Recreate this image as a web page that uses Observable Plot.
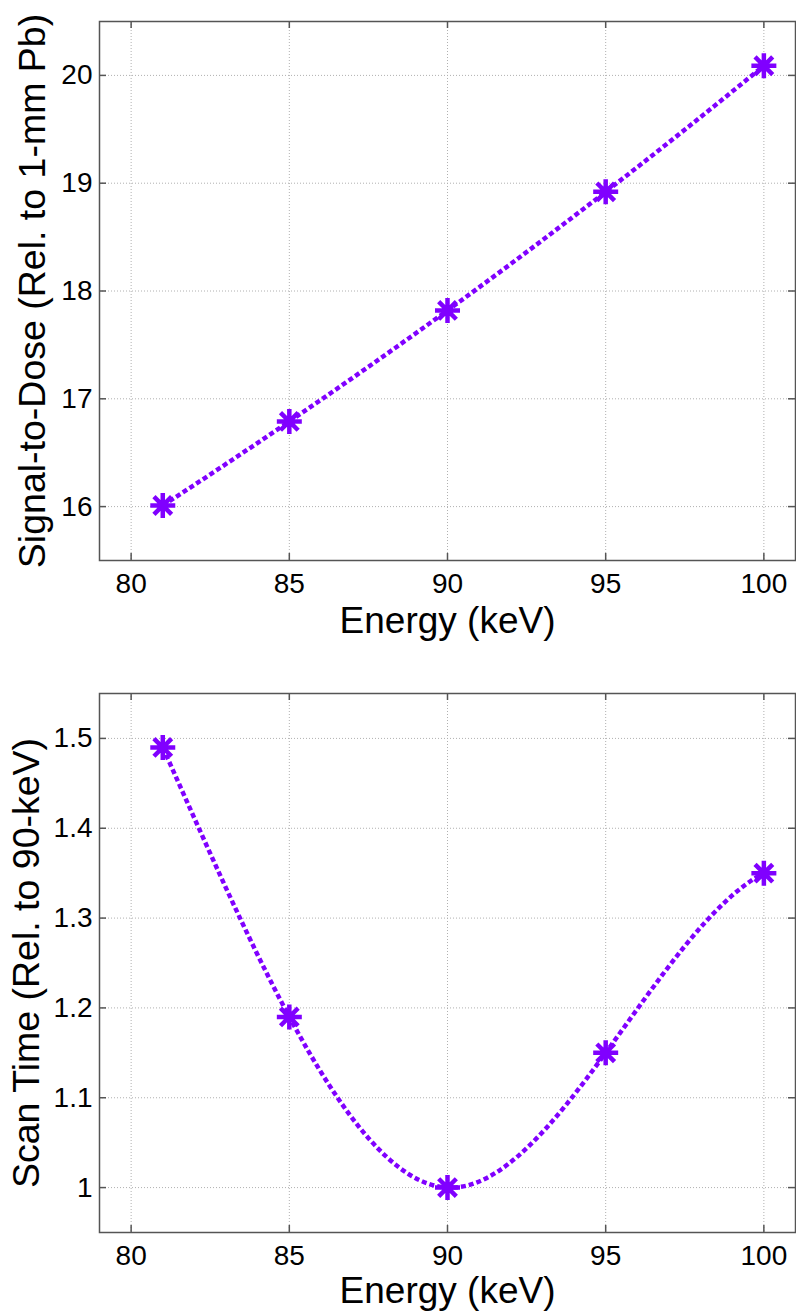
<!DOCTYPE html>
<html>
<head>
<meta charset="utf-8">
<script src="https://cdn.jsdelivr.net/npm/d3@7"></script>
<script src="https://cdn.jsdelivr.net/npm/@observablehq/plot@0.6"></script>
<style>
  html, body { margin: 0; padding: 0; background: #fff; }
  #chart svg { display: block; }
</style>
</head>
<body>
<div id="chart"></div>
<script>
// ---- data ----
const energy = [81, 85, 90, 95, 100];
const signalToDose = [16.01, 16.79, 17.82, 18.92, 20.09];
const scanTime = [1.49, 1.19, 1.0, 1.15, 1.35];

const xTicks = [80, 85, 90, 95, 100];
const yTicksTop = [16, 17, 18, 19, 20];
const yTicksBottom = [1, 1.1, 1.2, 1.3, 1.4, 1.5];

const xLabel = "Energy (keV)";
const yLabelTop = "Signal-to-Dose (Rel. to 1-mm Pb)";
const yLabelBottom = "Scan Time (Rel. to 90-keV)";

// ---- style ----
const purple = "#8000ff";
const axisColor = "#555";
const font = "'Liberation Sans', Arial, Helvetica, sans-serif";

// MATLAB-style "not-a-knot" cubic spline as a d3 curve factory
function curveNotAKnot(context) {
  let xs, ys;
  function solve(A, b) {
    const n = b.length;
    for (let k = 0; k < n; k++) {
      let p = k;
      for (let i = k + 1; i < n; i++) if (Math.abs(A[i][k]) > Math.abs(A[p][k])) p = i;
      [A[k], A[p]] = [A[p], A[k]]; [b[k], b[p]] = [b[p], b[k]];
      for (let i = k + 1; i < n; i++) {
        const f = A[i][k] / A[k][k];
        for (let j = k; j < n; j++) A[i][j] -= f * A[k][j];
        b[i] -= f * b[k];
      }
    }
    const m = new Array(n).fill(0);
    for (let i = n - 1; i >= 0; i--) {
      let s = b[i];
      for (let j = i + 1; j < n; j++) s -= A[i][j] * m[j];
      m[i] = s / A[i][i];
    }
    return m;
  }
  return {
    areaStart() {}, areaEnd() {},
    lineStart() { xs = []; ys = []; },
    point(x, y) { xs.push(+x); ys.push(+y); },
    lineEnd() {
      const n = xs.length;
      if (!n) return;
      context.moveTo(xs[0], ys[0]);
      if (n < 4) { for (let i = 1; i < n; i++) context.lineTo(xs[i], ys[i]); return; }
      const h = [], d = [];
      for (let i = 0; i < n - 1; i++) { h.push(xs[i + 1] - xs[i]); d.push((ys[i + 1] - ys[i]) / h[i]); }
      const A = Array.from({length: n}, () => new Array(n).fill(0));
      const b = new Array(n).fill(0);
      const x31 = h[0] + h[1];
      A[0][0] = h[1]; A[0][1] = x31;
      b[0] = ((h[0] + 2 * x31) * h[1] * d[0] + h[0] * h[0] * d[1]) / x31;
      for (let i = 1; i < n - 1; i++) {
        A[i][i - 1] = h[i]; A[i][i] = 2 * (h[i - 1] + h[i]); A[i][i + 1] = h[i - 1];
        b[i] = 3 * (h[i] * d[i - 1] + h[i - 1] * d[i]);
      }
      const xn = h[n - 2] + h[n - 3];
      A[n - 1][n - 2] = xn; A[n - 1][n - 1] = h[n - 3];
      b[n - 1] = (h[n - 2] * h[n - 2] * d[n - 3] + (2 * xn + h[n - 2]) * h[n - 3] * d[n - 2]) / xn;
      const m = solve(A, b);
      for (let i = 0; i < n - 1; i++) {
        const t = h[i] / 3;
        context.bezierCurveTo(xs[i] + t, ys[i] + m[i] * t, xs[i + 1] - t, ys[i + 1] - m[i + 1] * t, xs[i + 1], ys[i + 1]);
      }
    }
  };
}

const asterisk = {
  draw(context, size) {
    const r = Math.sqrt(size / Math.PI);
    const d = r * Math.SQRT1_2;
    context.moveTo(-r, 0); context.lineTo(r, 0);
    context.moveTo(0, -r); context.lineTo(0, r);
    context.moveTo(-d, -d); context.lineTo(d, d);
    context.moveTo(-d, d); context.lineTo(d, -d);
  }
};

function panel({values, yDomain, yTicks, yLabel, height, marginTop, marginBottom, yTitleDx, xTitleDy}) {
  const data = energy.map((e, i) => ({x: e, y: values[i]}));
  const plotH = height - marginTop - marginBottom;
  const plotW = 796 - 99 - 1;
  const tl = 7;
  return Plot.plot({
    width: 796,
    height,
    marginLeft: 99,
    marginRight: 1,
    marginTop,
    marginBottom,
    style: {fontFamily: font, background: "#fff", overflow: "visible"},
    x: {domain: [79, 101]},
    y: {domain: yDomain},
    marks: [
      Plot.gridX(xTicks, {stroke: "#b0b0b0", strokeOpacity: 1, strokeWidth: 1, strokeDasharray: "1,2"}),
      Plot.gridY(yTicks, {stroke: "#b0b0b0", strokeOpacity: 1, strokeWidth: 1, strokeDasharray: "1,2"}),
      // inward ticks on all four sides
      Plot.tickX(xTicks, {x: d => d, insetTop: plotH - tl, stroke: axisColor, strokeWidth: 1.5}),
      Plot.tickX(xTicks, {x: d => d, insetBottom: plotH - tl, stroke: axisColor, strokeWidth: 1.5}),
      Plot.tickY(yTicks, {y: d => d, insetRight: plotW - tl, stroke: axisColor, strokeWidth: 1.5}),
      Plot.tickY(yTicks, {y: d => d, insetLeft: plotW - tl, stroke: axisColor, strokeWidth: 1.5}),
      Plot.axisX(xTicks, {tickSize: 0, tickPadding: 13, fontSize: 28, fill: "#000", tickFormat: d => String(d), label: null}),
      Plot.axisY(yTicks, {tickSize: 0, tickPadding: 7, fontSize: 28, fill: "#000", tickFormat: d => String(d), label: null}),
      Plot.frame({stroke: axisColor, strokeWidth: 1.5}),
      Plot.line(data, {x: "x", y: "y", curve: curveNotAKnot, stroke: purple, strokeWidth: 4.5, strokeDasharray: "5,3", strokeLinecap: "butt", strokeLinejoin: "miter"}),
      Plot.dot(data, {x: "x", y: "y", symbol: asterisk, r: 12.5, fill: "none", stroke: purple, strokeWidth: 4.5, strokeLinecap: "butt"}),
      Plot.text([xLabel], {frameAnchor: "bottom", dy: xTitleDy, lineAnchor: "bottom", textAnchor: "middle", fontSize: 37, fill: "#000"}),
      Plot.text([yLabel], {frameAnchor: "left", dx: yTitleDx, rotate: -90, lineAnchor: "top", textAnchor: "middle", fontSize: 37.5, fill: "#000"})
    ]
  });
}

const chart = document.getElementById("chart");
chart.append(panel({
  values: signalToDose, yDomain: [15.5, 20.5], yTicks: yTicksTop, yLabel: yLabelTop,
  height: 650, marginTop: 21, marginBottom: 90, yTitleDx: -81, xTitleDy: 72
}));
chart.append(panel({
  values: scanTime, yDomain: [0.95, 1.55], yTicks: yTicksBottom, yLabel: yLabelBottom,
  height: 664, marginTop: 43, marginBottom: 82, yTitleDx: -87, xTitleDy: 70
}));
</script>
</body>
</html>
